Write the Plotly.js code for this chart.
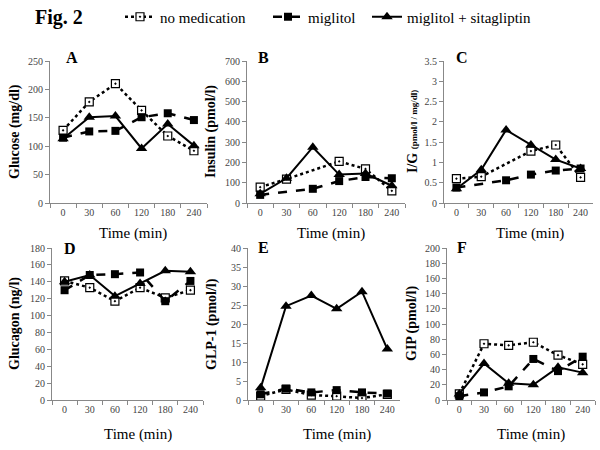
<!DOCTYPE html>
<html><head><meta charset="utf-8">
<script src="https://cdn.plot.ly/plotly-3.0.1.min.js"></script>
<style>html,body{margin:0;padding:0;background:#fff}#chart{width:600px;height:450px}</style>
</head><body><div id="chart"></div>
<script>
// Time points (categorical)
const timeLabels = ['0','30','60','120','180','240'];
const seriesNames = ['no medication','miglitol','miglitol + sitagliptin'];

// A: Glucose (mg/dl)
const glucoseNoMed = [128, 178, 210, 163, 118, 92];
const glucoseMig   = [115, 126, 127, 151, 158, 146];
const glucoseSita  = [113, 151, 153, 96, 139, 101];
// B: Insulin (pmol/l)
const insulinNoMed = [78, 118, null, 205, 168, 60];
const insulinMig   = [40, null, 70, 108, 128, 122];
const insulinSita  = [45, 122, 275, 140, 145, 85];
// C: I/G
const igNoMed = [0.60, 0.65, null, 1.28, 1.43, 0.63];
const igMig   = [0.38, null, 0.56, 0.70, 0.80, 0.85];
const igSita  = [0.35, 0.82, 1.80, 1.43, 1.07, 0.85];
// D: Glucagon (ng/l)
const glucagonNoMed = [141, 133, 117, 133, 121, 130];
const glucagonMig   = [130, 148, 149, 151, 117, 141];
const glucagonSita  = [140, 148, 123, 138, 153, 152];
// E: GLP-1 (pmol/l)
const glp1NoMed = [1.0, 2.8, 1.3, 1.0, 0.5, 1.5];
const glp1Mig   = [1.5, 3.0, 2.0, 2.6, 2.0, 1.7];
const glp1Sita  = [3.2, 24.7, 27.5, 24.0, 28.5, 13.4];
// F: GIP (pmol/l)
const gipNoMed = [8, 74, 72, 76, 59, 47];
const gipMig   = [5, 10, 18, 54, 38, 57];
const gipSita  = [8, 48, 22, 20, 43, 36];

const panelLetters = ['A','B','C','D','E','F'];
const yTitles = ['Glucose (mg/dl)','Insulin (pmol/l)',
  'I/G <span style="font-size:9px">(pmol/l / mg/dl)</span>',
  'Glucagon (ng/l)','GLP-1 (pmol/l)','GIP (pmol/l)'];
const yMax = [250, 700, 3.5, 180, 40, 200];
const yDtick = [50, 100, 0.5, 20, 5, 20];

const panels = [
  [glucoseNoMed, glucoseMig, glucoseSita],
  [insulinNoMed, insulinMig, insulinSita],
  [igNoMed, igMig, igSita],
  [glucagonNoMed, glucagonMig, glucagonSita],
  [glp1NoMed, glp1Mig, glp1Sita],
  [gipNoMed, gipMig, gipSita]
];

// pixel boxes [x0,x1,y0(top),y1(bottom)]
const boxes = [
  [50,207,61,203],[247,405,61,203],[444,593,61,203],
  [52,203,248,400],[248,400,248,400],[447,595,248,400]
];
const yTitleX = [15,211,412,15,212,412];
const xTitleX = [133,331,530,138,337,531];
const xTitleY = [233,233,233,434,434,434];
const letterPos = [[72,58],[263,57],[462,57],[70,248],[263,247],[462,247]];
const legendX = [120, 268, 367];

const W=600,H=450;
const serif = 'Liberation Serif';
const styles = [
  {line:{color:'#000',width:2.5,dash:'dot'}, marker:{symbol:'square-dot',size:8,color:'#fff',line:{color:'#000',width:1.2}}},
  {line:{color:'#000',width:2.5,dash:'dash'}, marker:{symbol:'square',size:8,color:'#000'}},
  {line:{color:'#000',width:2}, marker:{symbol:'triangle-up',size:10,color:'#000'}}
];

const data=[];
const layout={
  width:W,height:H,margin:{l:0,r:0,t:0,b:0},
  paper_bgcolor:'#fff',plot_bgcolor:'#fff',
  font:{family:serif,color:'#000'},
  showlegend:true,
  annotations:[],
};
const legendKeys=['legend','legend2','legend3'];
legendKeys.forEach((k,j)=>{
  layout[k]={orientation:'h',x:legendX[j]/W,xanchor:'left',y:1-17/H,yanchor:'middle',
    font:{family:serif,size:15,color:'#000'},bgcolor:'rgba(0,0,0,0)',itemwidth:30};
});

panels.forEach((series,i)=>{
  const n=i+1;
  const xa='x'+(n===1?'':n), ya='y'+(n===1?'':n);
  series.forEach((vals,s)=>{
    data.push({
      type:'scatter',mode:'lines+markers',x:timeLabels,y:vals,
      name:seriesNames[s],legendgroup:seriesNames[s],showlegend:i===0,legend:legendKeys[s],
      connectgaps:true,xaxis:xa,yaxis:ya,
      line:styles[s].line,marker:styles[s].marker,hoverinfo:'skip'
    });
  });
  const b=boxes[i];
  layout['xaxis'+(n===1?'':n)]={
    domain:[b[0]/W,b[1]/W],anchor:ya,type:'category',categoryarray:timeLabels,
    range:[-0.5,5.5],tickson:'boundaries',ticks:'outside',ticklen:4,tickcolor:'#888',tickangle:0,
    showline:true,linecolor:'#888',linewidth:1,showgrid:false,zeroline:false,
    tickfont:{family:serif,size:10,color:'#444'},fixedrange:true
  };
  layout['yaxis'+(n===1?'':n)]={
    domain:[1-b[3]/H,1-b[2]/H],anchor:xa,range:[0,yMax[i]],dtick:yDtick[i],tick0:0,
    ticks:'outside',ticklen:4,tickcolor:'#888',showline:true,linecolor:'#888',linewidth:1,
    showgrid:false,zeroline:false,tickfont:{family:serif,size:10,color:'#444'},fixedrange:true
  };
  layout.annotations.push({xref:'paper',yref:'paper',x:yTitleX[i]/W,y:1-((b[2]+b[3])/2)/H,
    text:'<b>'+yTitles[i]+'</b>',textangle:-90,showarrow:false,xanchor:'center',yanchor:'middle',
    font:{family:serif,size:14,color:'#000'}});
  layout.annotations.push({xref:'paper',yref:'paper',x:xTitleX[i]/W,y:1-xTitleY[i]/H,
    text:'Time (min)',showarrow:false,xanchor:'center',yanchor:'middle',
    font:{family:serif,size:15,color:'#000'}});
  layout.annotations.push({xref:'paper',yref:'paper',x:letterPos[i][0]/W,y:1-letterPos[i][1]/H,
    text:'<b>'+panelLetters[i]+'</b>',showarrow:false,xanchor:'center',yanchor:'middle',
    font:{family:serif,size:16,color:'#000'}});
});
layout.annotations.push({xref:'paper',yref:'paper',x:33/W,y:1-17/H,text:'<b>Fig. 2</b>',
  showarrow:false,xanchor:'left',yanchor:'middle',font:{family:serif,size:20,color:'#000'}});

Plotly.newPlot('chart',data,layout,{displayModeBar:false,staticPlot:true});
</script></body></html>
